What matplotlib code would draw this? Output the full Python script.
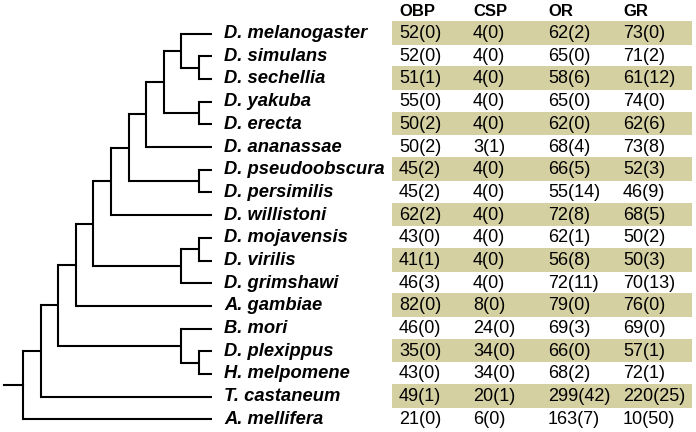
import matplotlib
matplotlib.use("Agg")
import matplotlib.pyplot as plt
from matplotlib.patches import Rectangle


# cladogram of the species, tips in top-to-bottom order
TREE = (
    (
        (
            (
                (
                    (
                        (
                            (
                                ("D. melanogaster", ("D. simulans", "D. sechellia")),
                                ("D. yakuba", "D. erecta"),
                            ),
                            "D. ananassae",
                        ),
                        ("D. pseudoobscura", "D. persimilis"),
                    ),
                    "D. willistoni",
                ),
                (("D. mojavensis", "D. virilis"), "D. grimshawi"),
            ),
            "A. gambiae",
        ),
        ("B. mori", ("D. plexippus", "H. melpomene")),
    ),
    "T. castaneum",
), "A. mellifera"

HEADERS = ["OBP", "CSP", "OR", "GR"]
OBP = [52, 52, 51, 55, 50, 50, 45, 45, 62, 43, 41, 46, 82, 46, 35, 43, 49, 21]
OBP_P = [0, 0, 1, 0, 2, 2, 2, 2, 2, 0, 1, 3, 0, 0, 0, 0, 1, 0]
CSP = [4, 4, 4, 4, 4, 3, 4, 4, 4, 4, 4, 4, 8, 24, 34, 34, 20, 6]
CSP_P = [0, 0, 0, 0, 0, 1, 0, 0, 0, 0, 0, 0, 0, 0, 0, 0, 1, 0]
OR = [62, 65, 58, 65, 62, 68, 66, 55, 72, 62, 56, 72, 79, 69, 66, 68, 299, 163]
OR_P = [2, 0, 6, 0, 0, 4, 5, 14, 8, 1, 8, 11, 0, 3, 0, 2, 42, 7]
GR = [73, 71, 61, 74, 62, 73, 52, 46, 68, 50, 50, 70, 76, 69, 57, 72, 220, 10]
GR_P = [0, 2, 12, 0, 6, 8, 3, 9, 5, 2, 3, 13, 0, 0, 1, 1, 25, 50]

BAND_COLOR = "#d5d0a2"
ROW_Y0 = 33.5
ROW_STEP = 22.7
TIP_X = 212
ROOT_X = 23
LEVEL_STEP = 17.6
LABEL_X = 224
COL_X = [399, 473, 548, 623]
LW = 1.5


def row_y(i):
    return ROW_Y0 + i * ROW_STEP


def height(node):
    if isinstance(node, str):
        return 0
    return 1 + max(height(c) for c in node)


def draw_node(ax, node, tips, max_h):
    """Draw node and its children, return (x, y) of node."""
    if isinstance(node, str):
        i = len(tips)
        tips.append(node)
        return TIP_X, row_y(i)
    pts = [draw_node(ax, c, tips, max_h) for c in node]
    x = ROOT_X + (max_h - height(node)) * LEVEL_STEP
    ys = [p[1] for p in pts]
    ax.plot([x, x], [min(ys), max(ys)], color="black", lw=LW,
            solid_capstyle="projecting")
    for cx, cy in pts:
        ax.plot([x, cx], [cy, cy], color="black", lw=LW,
                solid_capstyle="butt")
    return x, sum(ys) / len(ys)


fig = plt.figure(figsize=(6.96, 4.32), dpi=100)
ax = fig.add_axes([0, 0, 1, 1])
ax.set_xlim(0, 696)
ax.set_ylim(432, 0)
ax.axis("off")

tips = []
rx, ry = draw_node(ax, TREE, tips, height(TREE))
ax.plot([4, rx], [ry, ry], color="black", lw=LW)

for i, name in enumerate(tips):
    ax.text(LABEL_X, row_y(i), name, fontsize=13.2, family="Liberation Sans",
            weight="bold", style="italic", va="center", ha="left")

columns = [(OBP, OBP_P), (CSP, CSP_P), (OR, OR_P), (GR, GR_P)]
for i in range(len(tips)):
    y = row_y(i)
    if i % 2 == 0:
        ax.add_patch(Rectangle((392, y - 12.5), 300, 23.5,
                               color=BAND_COLOR, lw=0, zorder=0))
    for x, (vals, par) in zip(COL_X, columns):
        ax.text(x, y, f"{vals[i]}({par[i]})", fontsize=13,
                family="Liberation Sans", va="center", ha="left")

for x, h in zip(COL_X, HEADERS):
    ax.text(x, 12, h, fontsize=12, family="Liberation Sans", weight="bold",
            va="center", ha="left")

fig.savefig("out.png", dpi=100)
